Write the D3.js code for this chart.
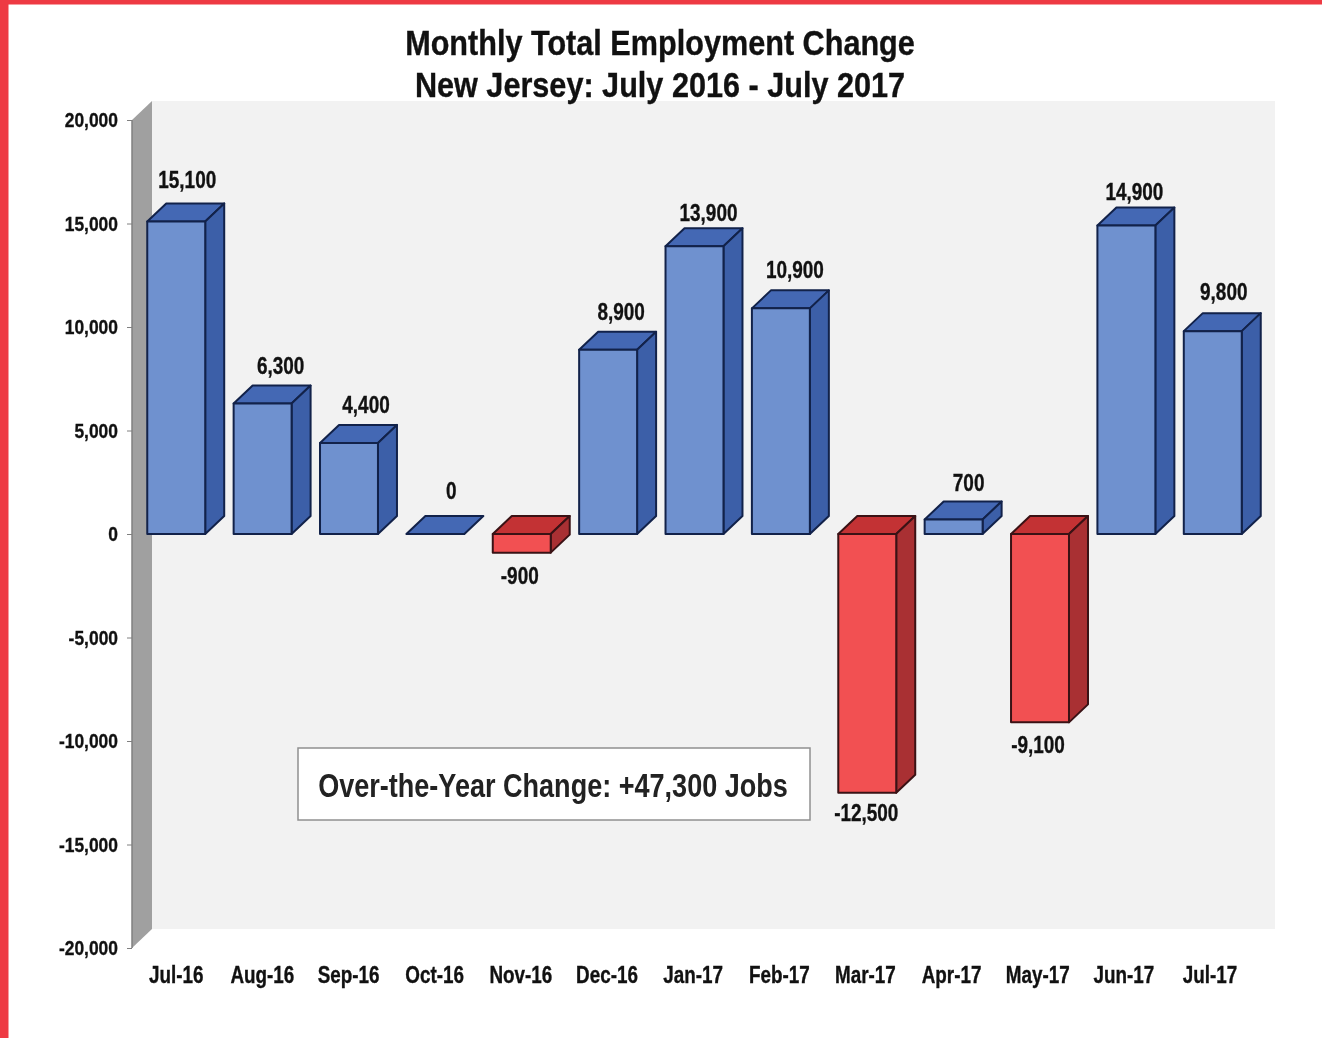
<!DOCTYPE html>
<html><head><meta charset="utf-8">
<script src="https://cdn.jsdelivr.net/npm/d3@7"></script>
<style>
html,body{margin:0;padding:0;background:#fff;overflow:hidden}
svg{display:block;filter:blur(0.7px)}
text{font-family:"Liberation Sans",Arial,sans-serif;font-weight:700;fill:#111;stroke:#111;stroke-width:0.35px}
</style></head><body>
<div id="c"></div>
<script>
const months=["Jul-16","Aug-16","Sep-16","Oct-16","Nov-16","Dec-16","Jan-17","Feb-17","Mar-17","Apr-17","May-17","Jun-17","Jul-17"];
const changes=[15100,6300,4400,0,-900,8900,13900,10900,-12500,700,-9100,14900,9800];
const yTicks=[20000,15000,10000,5000,0,-5000,-10000,-15000,-20000];
const titleLines=["Monthly Total Employment Change","New Jersey: July 2016 - July 2017"];
const note="Over-the-Year Change: +47,300 Jobs";

const W=1322,H=1038,dx=19,dy=18;
const svg=d3.select("#c").append("svg").attr("width",W).attr("height",H);
const x=d3.scaleBand().domain(months).range([133,1256]).paddingInner(0.329).paddingOuter(0.165);
const y=d3.scaleLinear().domain([-20000,20000]).range([948,120]);
const fmt=v=>d3.format(",")(v).replace("\u2212","-");

// page frame
svg.append("rect").attr("x",0).attr("y",0).attr("width",8.5).attr("height",H).attr("fill","#ee3a43");
svg.append("rect").attr("x",0).attr("y",0).attr("width",W).attr("height",4.5).attr("fill","#ee3a43");

// walls
svg.append("rect").attr("x",152).attr("y",y(20000)-19).attr("width",1123).attr("height",y(-20000)-y(20000)).attr("fill","#f2f2f2");
svg.append("path").attr("fill","#a0a0a0")
 .attr("d",d3.line()([[132,y(20000)],[152,y(20000)-19],[152,y(-20000)-19],[132,y(-20000)]]));
svg.append("line").attr("x1",132).attr("x2",132).attr("y1",y(20000)).attr("y2",y(-20000)).attr("stroke","#808080").attr("stroke-width",1.5);

// axes
const gy=svg.append("g").attr("transform","translate(132,0)")
 .call(d3.axisLeft(y).tickValues(yTicks).tickFormat(fmt).tickSize(5).tickPadding(9));
gy.select(".domain").remove();
gy.selectAll(".tick line").attr("stroke","#808080");
const ySx=0.83;
gy.selectAll("text").attr("font-size",21).attr("dy","0.32em")
  .attr("x",-14/ySx).attr("transform",`scale(${ySx},1)`);
const gx=svg.append("g").attr("transform","translate(0,948)")
 .call(d3.axisBottom(x).tickSize(0).tickPadding(19));
gx.select(".domain").remove();
gx.selectAll("text").attr("font-size",23)
  .attr("transform",(d,i)=>`translate(${-0.23*i},0) scale(0.82,1)`);

// bars
const line=d3.line();
const palette={pos:{front:"#6f91cf",top:"#4468b4",side:"#3c5fa8",stroke:"#12224a"},
               neg:{front:"#f25052",top:"#c33234",side:"#a93033",stroke:"#3a1215"}};
const bars=svg.append("g").selectAll("g").data(changes).join("g");
bars.each(function(v,i){
  const g=d3.select(this),c=palette[v<0?"neg":"pos"];
  const l=x(months[i]),r=l+x.bandwidth();
  const t=y(Math.max(v,0)),b=y(Math.min(v,0));
  const face=(pts,fill)=>g.append("path").attr("d",line(pts)+"Z").attr("fill",fill)
    .attr("stroke",c.stroke).attr("stroke-width",2).attr("stroke-linejoin","round");
  face([[l,t],[l+dx,t-dy],[r+dx,t-dy],[r,t]],c.top);
  if(b-t>0){
    face([[r,t],[r+dx,t-dy],[r+dx,b-dy],[r,b]],c.side);
    face([[l,t],[r,t],[r,b],[l,b]],c.front);
  }
});

// value labels
const labelShift=[11,18,17,16,-2,13,14,14,-1,15,-2,8,11];
const labelRise=[-1,2,2,-3,1,2,7,2,-2,3,1,6,1];
const vSx=0.79;
svg.append("g").selectAll("text").data(changes).join("text")
 .attr("text-anchor","middle").attr("font-size",24)
 .attr("transform",(v,i)=>`translate(${x(months[i])+x.bandwidth()/2+labelShift[i]},${(v<0?y(v)+30:y(v)-dy-14)+labelRise[i]}) scale(${vSx},1)`)
 .text(v=>fmt(v));

// title
svg.append("g").selectAll("text").data(titleLines).join("text")
 .attr("text-anchor","middle").attr("font-size",35)
 .attr("transform",(d,i)=>`translate(660,${55+i*42}) scale(0.875,1)`).text(d=>d);

// annotation
svg.append("rect").attr("x",298).attr("y",748).attr("width",512).attr("height",72)
 .attr("fill","#fff").attr("stroke","#909090").attr("stroke-width",1.5);
svg.append("text").attr("text-anchor","middle").attr("font-size",33).style("fill","#222").style("stroke","none")
 .attr("transform","translate(553,797) scale(0.82,1)").text(note);
</script></body></html>
